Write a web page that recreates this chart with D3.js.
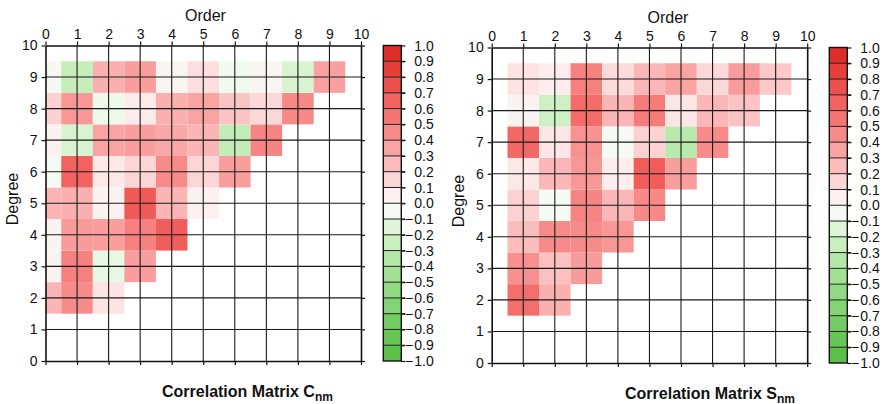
<!DOCTYPE html>
<html>
<head>
<meta charset="utf-8">
<script src="https://cdn.jsdelivr.net/npm/d3@7"></script>
<style>
  body { margin: 0; background: #fff; }
  text { font-family: "Liberation Sans", Arial, Helvetica, sans-serif; fill: #111; }
</style>
</head>
<body>
<svg id="chart" width="889" height="404"></svg>
<script>
// ---- data -------------------------------------------------------------
const degrees = [2, 3, 4, 5, 6, 7, 8, 9];
const axisTicks = [0, 1, 2, 3, 4, 5, 6, 7, 8, 9, 10];
const colorbarTicks = [-1.0, -0.9, -0.8, -0.7, -0.6, -0.5, -0.4, -0.3, -0.2, -0.1, 0.0,
                        0.1, 0.2, 0.3, 0.4, 0.5, 0.6, 0.7, 0.8, 0.9, 1.0];

// C_nm correlations: one row per degree n, orders m = 0..n
const cnm = [
  [0.28, 0.45, 0.10],
  [0.01, 0.50, -0.10, 0.37],
  [0.01, 0.38, 0.37, 0.50, 0.67],
  [0.28, 0.30, 0.02, 0.70, 0.28, 0.04],
  [-0.05, 0.65, 0.08, 0.15, 0.45, 0.15, 0.37],
  [0.03, -0.18, 0.35, 0.37, 0.33, 0.28, -0.28, 0.48],
  [0.17, 0.40, -0.08, 0.07, 0.30, 0.35, 0.22, 0.14, 0.46],
  [-0.03, -0.27, 0.30, 0.37, 0.00, 0.12, -0.07, 0.00, -0.18, 0.36]
];

// S_nm correlations: one row per degree n, orders m = 1..n (no S_n0 term)
const snm = [
  [0.58, 0.30],
  [0.43, 0.23, 0.38],
  [0.25, 0.45, 0.45, 0.40],
  [0.17, -0.04, 0.48, 0.27, 0.46],
  [0.08, 0.27, 0.40, 0.06, 0.68, 0.37],
  [0.62, 0.09, 0.42, -0.04, 0.17, -0.33, 0.45],
  [0.01, -0.23, 0.60, 0.28, 0.52, 0.09, 0.27, 0.22],
  [0.10, 0.06, 0.50, 0.13, 0.27, 0.35, 0.14, 0.38, 0.20]
];

// ---- palette: 0.1-wide bands from -1 to 1 ------------------------------
const greenBands = ["#5bbf4a", "#67c657", "#74cc64", "#82d373", "#91da83",
                    "#a2e194", "#b4e8a8", "#c9efbf", "#dff5d8", "#f4fbf2"];
const redBands   = ["#fdf0f0", "#fcd6d6", "#fbbcbc", "#f9a3a2", "#f78b89",
                    "#f47573", "#f16260", "#ec504c", "#e63f3a", "#df2e29"];
const bandColors = greenBands.concat(redBands);
const bandMids = d3.range(20).map(i => -0.95 + i * 0.1);
const color = d3.scaleLinear().domain(bandMids).range(bandColors).clamp(true);

const svg = d3.select("#chart");

function cellsFrom(rows, firstOrder) {
  const out = [];
  rows.forEach((row, i) => {
    row.forEach((v, j) => out.push({ n: degrees[i], m: j + firstOrder, v }));
  });
  return out;
}

function drawPanel(cfg) {
  const x = d3.scaleLinear().domain([0, 10]).range([cfg.left, cfg.left + cfg.size]);
  const y = d3.scaleLinear().domain([0, 10]).range([cfg.top + cfg.size, cfg.top]);
  const g = svg.append("g");

  // matrix cells, unit squares centred on (m, n), clipped to the frame
  g.append("g").selectAll("rect")
    .data(cfg.cells)
    .join("rect")
    .attr("x", d => x(Math.max(0, d.m - 0.5)))
    .attr("y", d => y(Math.min(10, d.n + 0.5)))
    .attr("width", d => x(Math.min(10, d.m + 0.5)) - x(Math.max(0, d.m - 0.5)))
    .attr("height", d => y(Math.max(0, d.n - 0.5)) - y(Math.min(10, d.n + 0.5)))
    .attr("fill", d => color(d.v));

  // integer grid
  const inner = axisTicks.filter(t => t > 0 && t < 10);
  g.append("g").selectAll("line.v").data(inner).join("line")
    .attr("x1", d => x(d)).attr("x2", d => x(d))
    .attr("y1", y(0)).attr("y2", y(10))
    .attr("stroke", "#1a1a1a").attr("stroke-width", 1.1);
  g.append("g").selectAll("line.h").data(inner).join("line")
    .attr("y1", d => y(d)).attr("y2", d => y(d))
    .attr("x1", x(0)).attr("x2", x(10))
    .attr("stroke", "#1a1a1a").attr("stroke-width", 1.1);

  // axes on all four sides; labels on top and left only
  const styleAxis = (sel) => {
    sel.select(".domain").attr("stroke", "#111").attr("stroke-width", 1.6);
    sel.selectAll(".tick line").attr("stroke", "#111").attr("stroke-width", 1.2);
    sel.selectAll("text").style("font-size", "14px").attr("fill", "#111");
  };
  g.append("g").attr("transform", `translate(0,${y(10)})`)
    .call(d3.axisTop(x).tickValues(axisTicks).tickSize(4).tickSizeOuter(0).tickPadding(3).tickFormat(d3.format("d")))
    .call(styleAxis);
  g.append("g").attr("transform", `translate(${x(0)},0)`)
    .call(d3.axisLeft(y).tickValues(axisTicks).tickSize(4).tickSizeOuter(0).tickPadding(4).tickFormat(d3.format("d")))
    .call(styleAxis);
  g.append("g").attr("transform", `translate(0,${y(0)})`)
    .call(d3.axisBottom(x).tickValues(axisTicks).tickSize(4).tickSizeOuter(0).tickFormat(""))
    .call(styleAxis);
  g.append("g").attr("transform", `translate(${x(10)},0)`)
    .call(d3.axisRight(y).tickValues(axisTicks).tickSize(4).tickSizeOuter(0).tickFormat(""))
    .call(styleAxis);

  // axis titles
  g.append("text").attr("x", cfg.orderX).attr("y", cfg.orderY)
    .attr("text-anchor", "middle").style("font-size", "16px").text("Order");
  g.append("text")
    .attr("transform", `translate(${cfg.degreeX},${cfg.degreeY}) rotate(-90)`)
    .attr("text-anchor", "middle").style("font-size", "16px").text("Degree");

  // panel title with subscript
  const t = g.append("text").attr("x", cfg.titleX).attr("y", cfg.titleY)
    .style("font-size", "16px").style("font-weight", "bold");
  t.append("tspan").text("Correlation Matrix " + cfg.symbol);
  t.append("tspan").attr("dy", 4).style("font-size", "12px").text("nm");

  // colour bar
  const cy = d3.scaleLinear().domain([-1, 1]).range([cfg.top + cfg.size, cfg.top]);
  const cb = g.append("g");
  cb.selectAll("rect").data(bandMids).join("rect")
    .attr("x", cfg.cbX).attr("width", 18)
    .attr("y", d => cy(d + 0.05)).attr("height", d => cy(d - 0.05) - cy(d + 0.05))
    .attr("fill", (d, i) => bandColors[i]);
  cb.selectAll("line").data(colorbarTicks.slice(1, -1)).join("line")
    .attr("x1", cfg.cbX).attr("x2", cfg.cbX + 22)
    .attr("y1", d => cy(d)).attr("y2", d => cy(d))
    .attr("stroke", "#222").attr("stroke-width", 1);
  cb.append("rect").attr("x", cfg.cbX).attr("y", cy(1)).attr("width", 18)
    .attr("height", cy(-1) - cy(1)).attr("fill", "none")
    .attr("stroke", "#111").attr("stroke-width", 1.4);
  cb.append("g").attr("transform", `translate(${cfg.cbX + 18},0)`)
    .call(d3.axisRight(cy).tickValues(colorbarTicks).tickSize(4).tickSizeOuter(0).tickFormat(""))
    .call(sel => { sel.select(".domain").remove();
                   sel.selectAll(".tick line").attr("stroke", "#111").attr("stroke-width", 1.2); });
  const labX = cfg.cbX + 18 + 13;
  const labs = cb.append("g").selectAll("g").data(colorbarTicks).join("g")
    .attr("transform", d => `translate(${labX},${cy(d)})`);
  labs.append("text").attr("dy", "0.36em").style("font-size", "14px")
    .text(d => d3.format(".1f")(Math.abs(d)));
  labs.filter(d => d < 0).append("text").attr("x", -1).attr("dy", "0.36em")
    .attr("text-anchor", "end").style("font-size", "14px").text("\u2212");
}

drawPanel({
  left: 45.5, top: 45.5, size: 315.5, cells: cellsFrom(cnm, 0), symbol: "C",
  cbX: 383.3, orderX: 205.5, orderY: 21, degreeX: 18, degreeY: 199,
  titleX: 162, titleY: 396.5
});
drawPanel({
  left: 491.7, top: 47.5, size: 315.5, cells: cellsFrom(snm, 1), symbol: "S",
  cbX: 829.3, orderX: 668, orderY: 23, degreeX: 464, degreeY: 201,
  titleX: 625, titleY: 398.5
});
</script>
</body>
</html>
